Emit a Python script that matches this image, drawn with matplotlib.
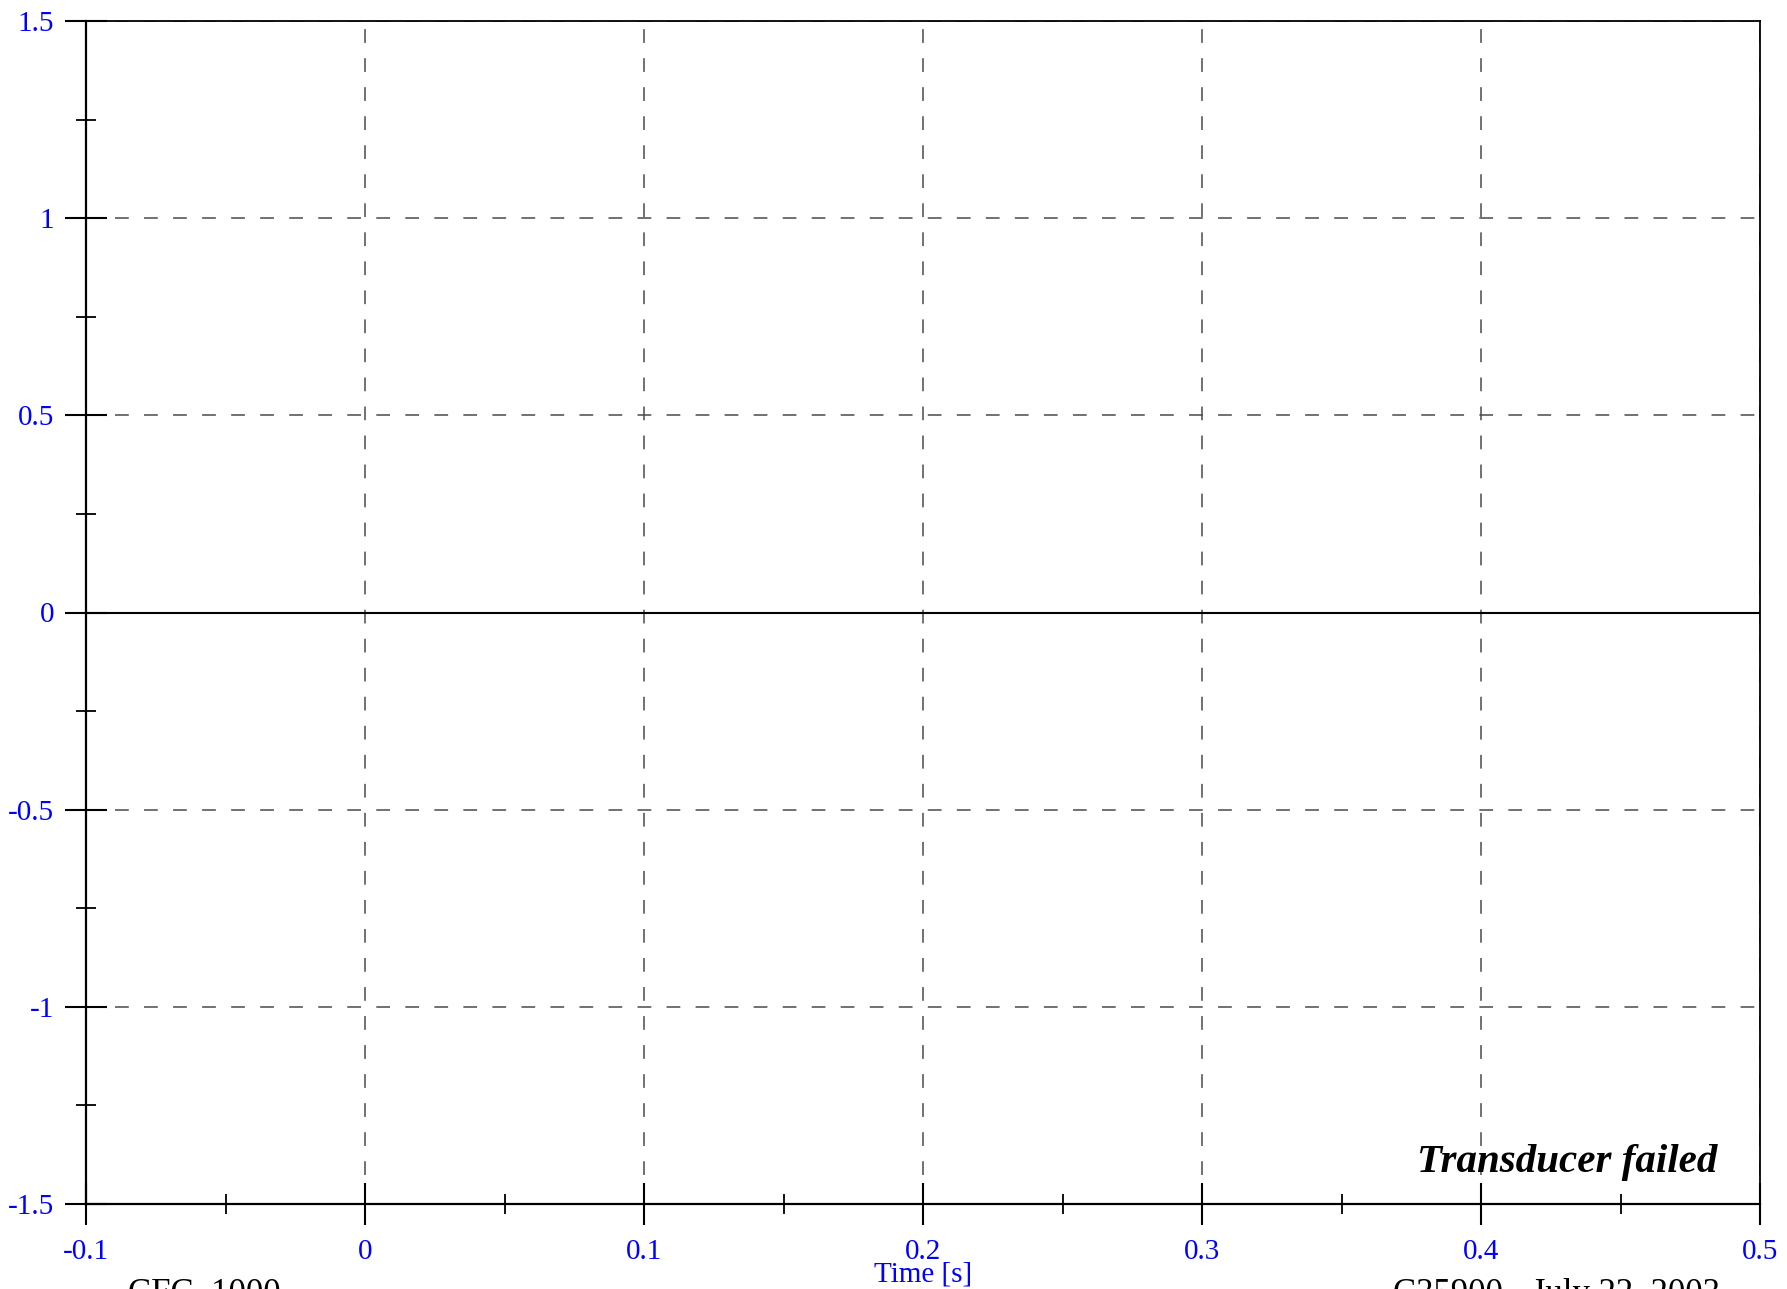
import matplotlib
matplotlib.use('Agg')
import matplotlib.pyplot as plt
from matplotlib.ticker import MultipleLocator

plt.rcParams['font.family'] = ['Liberation Serif', 'DejaVu Serif']
plt.rcParams['axes.unicode_minus'] = False

# channel signal (transducer failed -> flat zero)
time_s = [-0.1, 0.5]
signal = [0.0, 0.0]

x_limits = (-0.1, 0.5)
y_limits = (-1.5, 1.5)
filter_text = 'CFC  1000'
test_text = 'C35900 - July 22, 2003'
status_text = 'Transducer failed'

fig = plt.figure(figsize=(17.87, 12.89), dpi=100)
ax = fig.add_axes([86 / 1787, 1 - 1204 / 1289, (1760 - 86) / 1787, (1204 - 21) / 1289])

ax.plot(time_s, signal, color='black', lw=1.5, zorder=3)

ax.set_xlim(*x_limits)
ax.set_ylim(*y_limits)
ax.xaxis.set_major_locator(MultipleLocator(0.1))
ax.xaxis.set_minor_locator(MultipleLocator(0.05))
ax.yaxis.set_major_locator(MultipleLocator(0.5))
ax.yaxis.set_minor_locator(MultipleLocator(0.25))

ax.grid(True, which='major', color='#4a4a4a', ls=(0, (9, 10)), lw=1.1)

for s in ['left', 'bottom']:
    ax.spines[s].set_linewidth(1.6)
for s in ['top', 'right']:
    ax.spines[s].set_linewidth(1.3)

ax.tick_params(which='major', direction='inout', length=30, width=1.5,
               labelsize=21, labelcolor='blue', colors='black')
ax.tick_params(which='minor', direction='inout', length=15, width=1.3)
ax.tick_params(axis='x', which='major', pad=10)
ax.tick_params(axis='y', which='major', pad=8)

ax.set_xticklabels(['%g' % v for v in ax.get_xticks()])
ax.set_yticklabels(['%g' % v for v in ax.get_yticks()])
ax.set_xlim(*x_limits)
ax.set_ylim(*y_limits)

ax.set_xlabel('Time [s]', fontsize=21, color='blue', labelpad=-2)

ax.text(1717 / 1787, 1 - 1172 / 1289, status_text, transform=fig.transFigure,
        ha='right', va='baseline', fontsize=29.5, fontweight='bold', fontstyle='italic')
fig.text(128 / 1787, 1 - 1303 / 1289, filter_text, ha='left', va='baseline', fontsize=25)
fig.text(1393 / 1787, 1 - 1303 / 1289, test_text, ha='left', va='baseline', fontsize=25)

fig.savefig('out.png', dpi=100)
